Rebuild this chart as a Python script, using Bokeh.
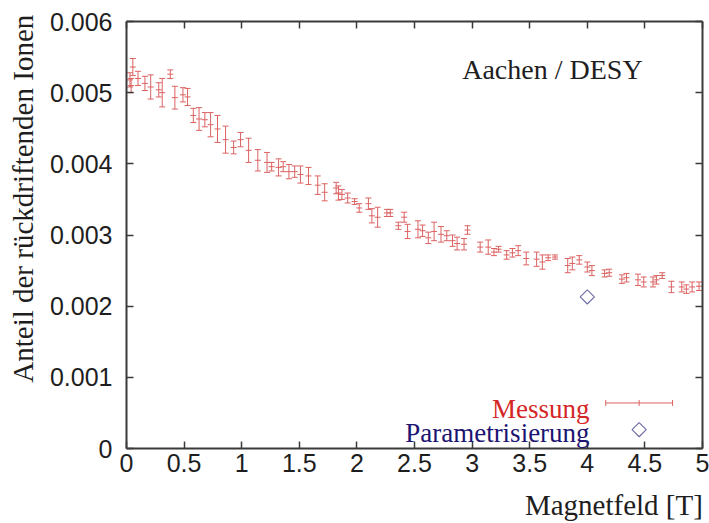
import math
from bokeh.plotting import figure
from bokeh.models import Range1d, FixedTicker, LinearAxis, Label, ColumnDataSource
from bokeh.embed import file_html
from bokeh.resources import INLINE

# ---- data ----
field_T = [0.03, 0.04, 0.055, 0.10, 0.16, 0.21, 0.28, 0.31, 0.38, 0.42,
           0.49, 0.53, 0.58, 0.63, 0.68, 0.73, 0.79, 0.86, 0.93, 0.99,
           1.06, 1.14, 1.22, 1.26, 1.32, 1.36, 1.41, 1.46, 1.51, 1.58,
           1.66, 1.72, 1.82, 1.84, 1.87, 1.92, 1.98, 2.02, 2.10, 2.13,
           2.18, 2.26, 2.29, 2.36, 2.41, 2.44, 2.53, 2.57, 2.62, 2.67,
           2.73, 2.78, 2.83, 2.87, 2.93, 2.96, 3.07, 3.14, 3.19, 3.23,
           3.30, 3.35, 3.40, 3.47, 3.56, 3.61, 3.66, 3.72, 3.83, 3.87,
           3.93, 4.00, 4.04, 4.15, 4.19, 4.30, 4.34, 4.44, 4.49, 4.57,
           4.60, 4.65, 4.73, 4.82, 4.86, 4.91, 4.97]
# fraction of back-drifting ions, in units of 1e-3
fraction_milli = [5.18, 5.10, 5.36, 5.20, 5.13, 5.08, 5.04, 5.00, 5.26, 4.93,
                  4.97, 4.94, 4.68, 4.63, 4.62, 4.55, 4.49, 4.34, 4.23, 4.34,
                  4.19, 4.05, 4.02, 3.96, 3.95, 3.96, 3.89, 3.89, 3.85, 3.83,
                  3.70, 3.60, 3.66, 3.59, 3.57, 3.52, 3.47, 3.38, 3.44, 3.27,
                  3.25, 3.31, 3.31, 3.13, 3.25, 3.05, 3.08, 3.06, 2.96, 3.05,
                  3.01, 2.99, 2.92, 2.88, 2.87, 3.07, 2.83, 2.83, 2.76, 2.80,
                  2.72, 2.75, 2.78, 2.67, 2.66, 2.62, 2.68, 2.69, 2.57, 2.60,
                  2.65, 2.55, 2.50, 2.46, 2.47, 2.38, 2.40, 2.37, 2.34, 2.34,
                  2.37, 2.43, 2.27, 2.27, 2.24, 2.27, 2.28]
error_milli = [0.10, 0.10, 0.12, 0.10, 0.10, 0.17, 0.10, 0.20, 0.06, 0.16,
               0.10, 0.12, 0.10, 0.16, 0.10, 0.17, 0.19, 0.19, 0.09, 0.10,
               0.17, 0.15, 0.14, 0.06, 0.12, 0.07, 0.10, 0.08, 0.12, 0.12,
               0.13, 0.12, 0.08, 0.10, 0.07, 0.07, 0.04, 0.06, 0.08, 0.10,
               0.14, 0.05, 0.05, 0.05, 0.07, 0.10, 0.12, 0.08, 0.08, 0.13,
               0.11, 0.07, 0.08, 0.09, 0.08, 0.06, 0.07, 0.10, 0.05, 0.04,
               0.06, 0.06, 0.07, 0.09, 0.10, 0.10, 0.04, 0.03, 0.10, 0.09,
               0.06, 0.07, 0.07, 0.05, 0.05, 0.06, 0.06, 0.08, 0.07, 0.07,
               0.06, 0.04, 0.08, 0.07, 0.06, 0.07, 0.06]
param_T = [4.0]
param_fraction = [0.00213]

x_ticks = [0, 0.5, 1, 1.5, 2, 2.5, 3, 3.5, 4, 4.5, 5]
x_tick_labels = ["0", "0.5", "1", "1.5", "2", "2.5", "3", "3.5", "4", "4.5", "5"]
y_ticks = [0, 0.001, 0.002, 0.003, 0.004, 0.005, 0.006]
y_tick_labels = ["0", "0.001", "0.002", "0.003", "0.004", "0.005", "0.006"]

title_text = "Aachen / DESY"
x_label = "Magnetfeld [T]"
y_label = "Anteil der rückdriftenden Ionen"
legend_meas = "Messung"
legend_param = "Parametrisierung"

# ---- styles ----
RED = "#dc6262"
RED_TEXT = "#d42626"
NAVY_TEXT = "#1c1470"
DIAMOND = "#6f6fa8"
AXIS = "#3a3a3a"
TXT = "#1e1e1e"
SERIF = "Liberation Serif"
SANS = "Liberation Sans"
NBSP = "\u00a0"
X_LABEL_PAD = 55   # shifts the centred axis title to the right end
Y_LABEL_PAD = 10   # shifts the centred axis title upwards

fraction = [v * 1e-3 for v in fraction_milli]
err = [v * 1e-3 for v in error_milli]
lo = [f - e for f, e in zip(fraction, err)]
hi = [f + e for f, e in zip(fraction, err)]
src = ColumnDataSource(dict(x=field_T, y=fraction, lo=lo, hi=hi))

p = figure(width=709, height=523, x_range=Range1d(0, 5), y_range=Range1d(0, 0.006),
           output_backend="svg", toolbar_location=None,
           min_border_left=126, min_border_right=7, min_border_top=21, min_border_bottom=72)
p.xgrid.visible = False
p.ygrid.visible = False
p.outline_line_color = None
p.background_fill_color = "white"
p.border_fill_color = "white"

def style_axis(ax, ticks, labels, show_labels):
    ax.ticker = FixedTicker(ticks=ticks, minor_ticks=[])
    ax.axis_line_color = AXIS
    ax.axis_line_width = 2
    ax.major_tick_line_color = AXIS
    ax.major_tick_line_width = 1.5
    ax.major_tick_in = 7
    ax.major_tick_out = 0
    ax.minor_tick_line_color = None
    if show_labels:
        ax.major_label_overrides = {t: l for t, l in zip(ticks, labels)}
        ax.major_label_text_font = SANS
        ax.major_label_text_font_size = "25px"
        ax.major_label_text_color = TXT
    else:
        ax.major_label_overrides = {t: "" for t in ticks}
        ax.major_label_text_font_size = "0px"
        ax.major_label_standoff = 0

xa = p.xaxis[0]
style_axis(xa, x_ticks, x_tick_labels, True)
xa.major_label_standoff = 5
xa.axis_label = NBSP * X_LABEL_PAD + x_label
xa.axis_label_text_font = SERIF
xa.axis_label_text_font_size = "29px"
xa.axis_label_text_font_style = "normal"
xa.axis_label_text_color = TXT
xa.axis_label_standoff = 14

ya = p.yaxis[0]
style_axis(ya, y_ticks, y_tick_labels, True)
ya.major_label_standoff = 14
ya.axis_label = NBSP * Y_LABEL_PAD + y_label
ya.axis_label_text_font = SERIF
ya.axis_label_text_font_size = "29px"
ya.axis_label_text_font_style = "normal"
ya.axis_label_text_color = TXT
ya.axis_label_standoff = 8

top = LinearAxis()
style_axis(top, x_ticks, x_tick_labels, False)
p.add_layout(top, "above")
right = LinearAxis()
style_axis(right, y_ticks, y_tick_labels, False)
p.add_layout(right, "right")

# error bars
p.segment(x0="x", y0="lo", x1="x", y1="hi", source=src, line_color=RED, line_width=1)
p.scatter(x="x", y="lo", source=src, marker="dash", size=6, line_color=RED, line_width=1)
p.scatter(x="x", y="hi", source=src, marker="dash", size=6, line_color=RED, line_width=1)
p.scatter(x="x", y="y", source=src, marker="dash", size=6, line_color=RED, line_width=1)

# parametrisation
p.scatter(x=param_T, y=param_fraction, marker="square", size=10, angle=math.pi / 4,
          fill_color=None, line_color=DIAMOND, line_width=1.2)

# legend (positions in data space, layout only)
leg_x0, leg_x1, leg_xm = 4.16, 4.74, 4.45
leg_y1, leg_y2 = 0.00064, 0.000265
p.segment(x0=[leg_x0], y0=[leg_y1], x1=[leg_x1], y1=[leg_y1], line_color=RED, line_width=1)
p.scatter(x=[leg_x0, leg_xm, leg_x1], y=[leg_y1] * 3, marker="dash", size=6,
          angle=math.pi / 2, line_color=RED, line_width=1)
p.scatter(x=[leg_xm], y=[leg_y2], marker="square", size=10, angle=math.pi / 4,
          fill_color=None, line_color=DIAMOND, line_width=1.2)
p.add_layout(Label(x=4.02, y=0.00055, text=legend_meas, text_align="right",
                   text_baseline="alphabetic", text_font=SERIF, text_font_size="27px",
                   text_color=RED_TEXT))
p.add_layout(Label(x=4.02, y=0.00022, text=legend_param, text_align="right",
                   text_baseline="alphabetic", text_font=SERIF, text_font_size="27px",
                   text_color=NAVY_TEXT))
p.add_layout(Label(x=4.48, y=0.00533, text=title_text, text_align="right",
                   text_baseline="alphabetic", text_font=SERIF, text_font_size="28px",
                   text_color=TXT))

open("out.html", "w").write(file_html(p, INLINE))
